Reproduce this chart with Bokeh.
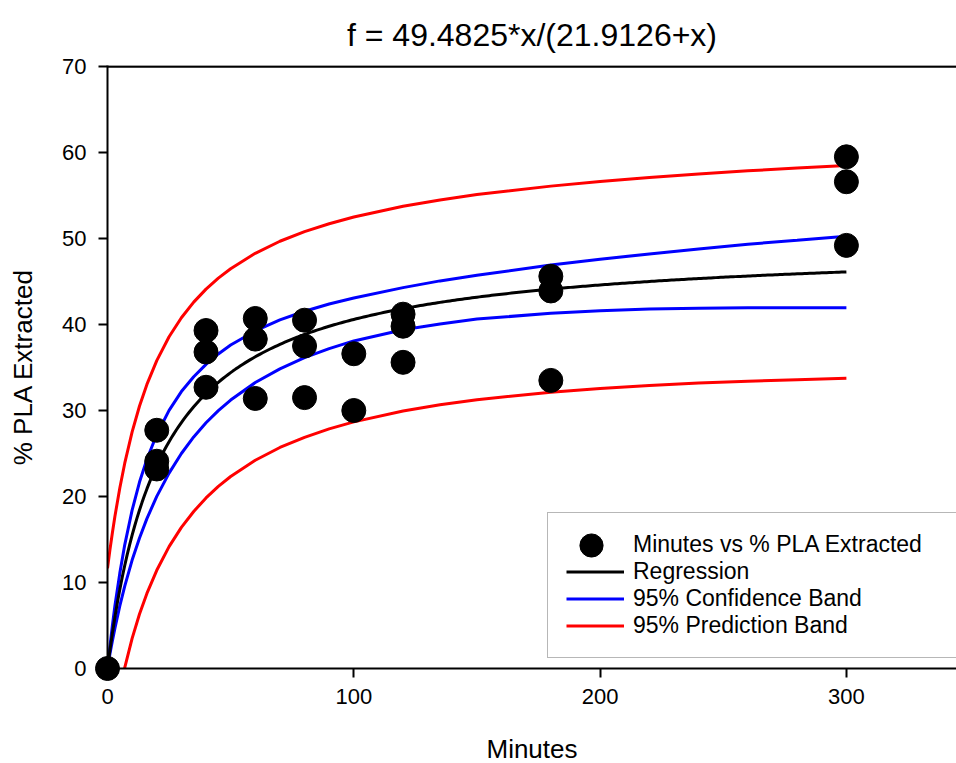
import numpy as np
from bokeh.plotting import figure
from bokeh.models import Range1d, Legend, LegendItem, Span, FixedTicker
from bokeh.embed import file_html
from bokeh.resources import INLINE

# ---------------- data ----------------
title_text = "f = 49.4825*x/(21.9126+x)"
fit_a = 49.4825
fit_b = 21.9126

minutes = [0, 20, 20, 20, 40, 40, 40, 60, 60, 60, 80, 80, 80, 100, 100,
           120, 120, 120, 180, 180, 180, 300, 300, 300]
pla = [0, 27.7, 24.1, 23.2, 39.3, 36.8, 32.7, 40.7, 38.3, 31.4, 40.5, 37.5, 31.5,
       36.6, 30.0, 41.2, 39.8, 35.6, 45.6, 43.9, 33.5, 59.5, 56.6, 49.2]

band_x = [0, 1, 2, 3, 5, 7, 10, 13, 16, 20, 25, 30, 35, 40, 45, 50, 60, 70, 80, 90,
          100, 120, 135, 150, 180, 200, 220, 240, 260, 280, 300]
ci_upper = [0, 2.61, 5.04, 7.26, 11.09, 14.38, 18.41, 21.68, 24.33, 27.21,
            30.02, 32.20, 33.93, 35.37, 36.58, 37.61, 39.25, 40.54, 41.54, 42.39,
            43.09, 44.29, 45.07, 45.73, 46.91, 47.60, 48.20, 48.79, 49.34, 49.79,
            50.26]
ci_lower = [0, 1.71, 3.24, 4.66, 7.29, 9.58, 12.61, 15.18, 17.43, 20.01,
            22.72, 25.00, 26.93, 28.57, 29.98, 31.21, 33.25, 34.84, 36.14, 37.19,
            38.09, 39.39, 40.07, 40.63, 41.31, 41.60, 41.80, 41.89, 41.94, 41.95,
            41.96]
pi_upper = [11.65, 13.82, 15.82, 17.68, 20.99, 23.87, 27.52, 30.52, 33.03, 35.80,
            38.57, 40.79, 42.60, 44.11, 45.39, 46.49, 48.28, 49.68, 50.80, 51.72,
            52.50, 53.74, 54.48, 55.11, 56.09, 56.63, 57.08, 57.49, 57.87, 58.19,
            58.48]
pi_lower = [-11.65, -9.50, -7.54, -5.76, -2.61, 0.09, 3.50, 6.34, 8.73, 11.42,
            14.17, 16.41, 18.26, 19.83, 21.17, 22.33, 24.22, 25.70, 26.88, 27.86,
            28.68, 29.94, 30.66, 31.25, 32.13, 32.57, 32.92, 33.19, 33.41, 33.59,
            33.74]

x_ticks = [0, 100, 200, 300]
y_ticks = [0, 10, 20, 30, 40, 50, 60, 70]

x_title = "Minutes"
y_title = "% PLA Extracted"
legend_labels = ["Minutes vs % PLA Extracted", "Regression",
                 "95% Confidence Band", "95% Prediction Band"]

# regression curve from the fitted formula shown in the title
fit_x = np.linspace(0, 300, 301)
fit_y = fit_a * fit_x / (fit_b + fit_x)

# ---------------- layout ----------------
W, H = 956, 763
FL, FT = 107, 65
FW, FH = W - FL, 603
PX_PER_X = 2.463
PX_PER_Y = 8.6
x_end = FW / PX_PER_X
y_end = 70 + 1 / PX_PER_Y
FB = FT + FH  # frame bottom in canvas pixels

FONT = "Liberation Sans"

p = figure(frame_width=FW, frame_height=FH,
           x_range=Range1d(0, x_end), y_range=Range1d(0, y_end),
           output_backend="svg", toolbar_location=None,
           min_border_left=FL, min_border_right=0, min_border_top=FT,
           min_border_bottom=H - FB)
p.background_fill_color = "white"
p.border_fill_color = "white"
p.outline_line_color = None
p.xgrid.visible = False
p.ygrid.visible = False

p.title.text = title_text
p.title.align = "center"
p.title.text_font = FONT
p.title.text_font_size = "32px"
p.title.text_font_style = "normal"
p.title.text_color = "black"
p.title.standoff = 26

for ax, ticks in ((p.xaxis[0], x_ticks), (p.yaxis[0], y_ticks)):
    ax.ticker = FixedTicker(ticks=ticks)
    ax.axis_line_width = 2
    ax.axis_line_color = "black"
    ax.major_tick_line_width = 2
    ax.major_tick_line_color = "black"
    ax.major_tick_out = 9
    ax.major_tick_in = 0
    ax.minor_tick_out = 0
    ax.minor_tick_in = 0
    ax.major_label_text_font = FONT
    ax.major_label_text_font_size = "22px"
    ax.major_label_text_color = "black"
    ax.axis_label_text_font = FONT
    ax.axis_label_text_font_size = "26px"
    ax.axis_label_text_font_style = "normal"
    ax.axis_label_text_color = "black"
p.xaxis[0].major_label_standoff = 11
p.yaxis[0].major_label_standoff = 12
p.xaxis[0].axis_label = x_title
p.yaxis[0].axis_label = y_title
p.xaxis[0].axis_label_standoff = 27
p.yaxis[0].axis_label_standoff = 21

# top frame line at y = 70
p.add_layout(Span(location=70, dimension="width", line_color="black", line_width=2.5))

# ---------------- glyphs ----------------
r_pil = p.line(band_x, pi_lower, line_color="#ff0000", line_width=3)
r_piu = p.line(band_x, pi_upper, line_color="#ff0000", line_width=3)
r_cil = p.line(band_x, ci_lower, line_color="#0000ff", line_width=3)
r_ciu = p.line(band_x, ci_upper, line_color="#0000ff", line_width=3)
r_fit = p.line(fit_x, fit_y, line_color="black", line_width=3)
r_pts = p.scatter(minutes, pla, size=24, marker="circle",
                  fill_color="black", line_color="black", level="overlay")
r_dummy = p.scatter([], [], size=24, marker="circle", fill_alpha=0, line_alpha=0)

# ---------------- legends ----------------
leg_box = Legend(items=[LegendItem(label=legend_labels[0], renderers=[r_dummy]),
                        LegendItem(label=legend_labels[1], renderers=[r_fit]),
                        LegendItem(label=legend_labels[2], renderers=[r_ciu]),
                        LegendItem(label=legend_labels[3], renderers=[r_piu])],
                 location=(547 - FL, FB - 658),
                 glyph_width=58, glyph_height=27, label_height=27, label_width=305,
                 spacing=0, padding=18, margin=0, label_standoff=9,
                 label_text_font=FONT, label_text_font_size="23px",
                 label_text_color="black",
                 border_line_color="#707070", border_line_width=1.5,
                 background_fill_color="white", background_fill_alpha=1.0)
p.add_layout(leg_box, "center")

leg_dot = Legend(items=[LegendItem(label=" ", renderers=[r_pts])],
                 location=(562 - FL, FB - 575),
                 glyph_width=58, glyph_height=60, label_height=60, label_width=0,
                 spacing=0, padding=0, margin=0, label_standoff=0,
                 label_text_font_size="2px",
                 border_line_color=None, background_fill_alpha=0.0)
p.add_layout(leg_dot, "center")

open("out.html", "w").write(file_html(p, INLINE))
